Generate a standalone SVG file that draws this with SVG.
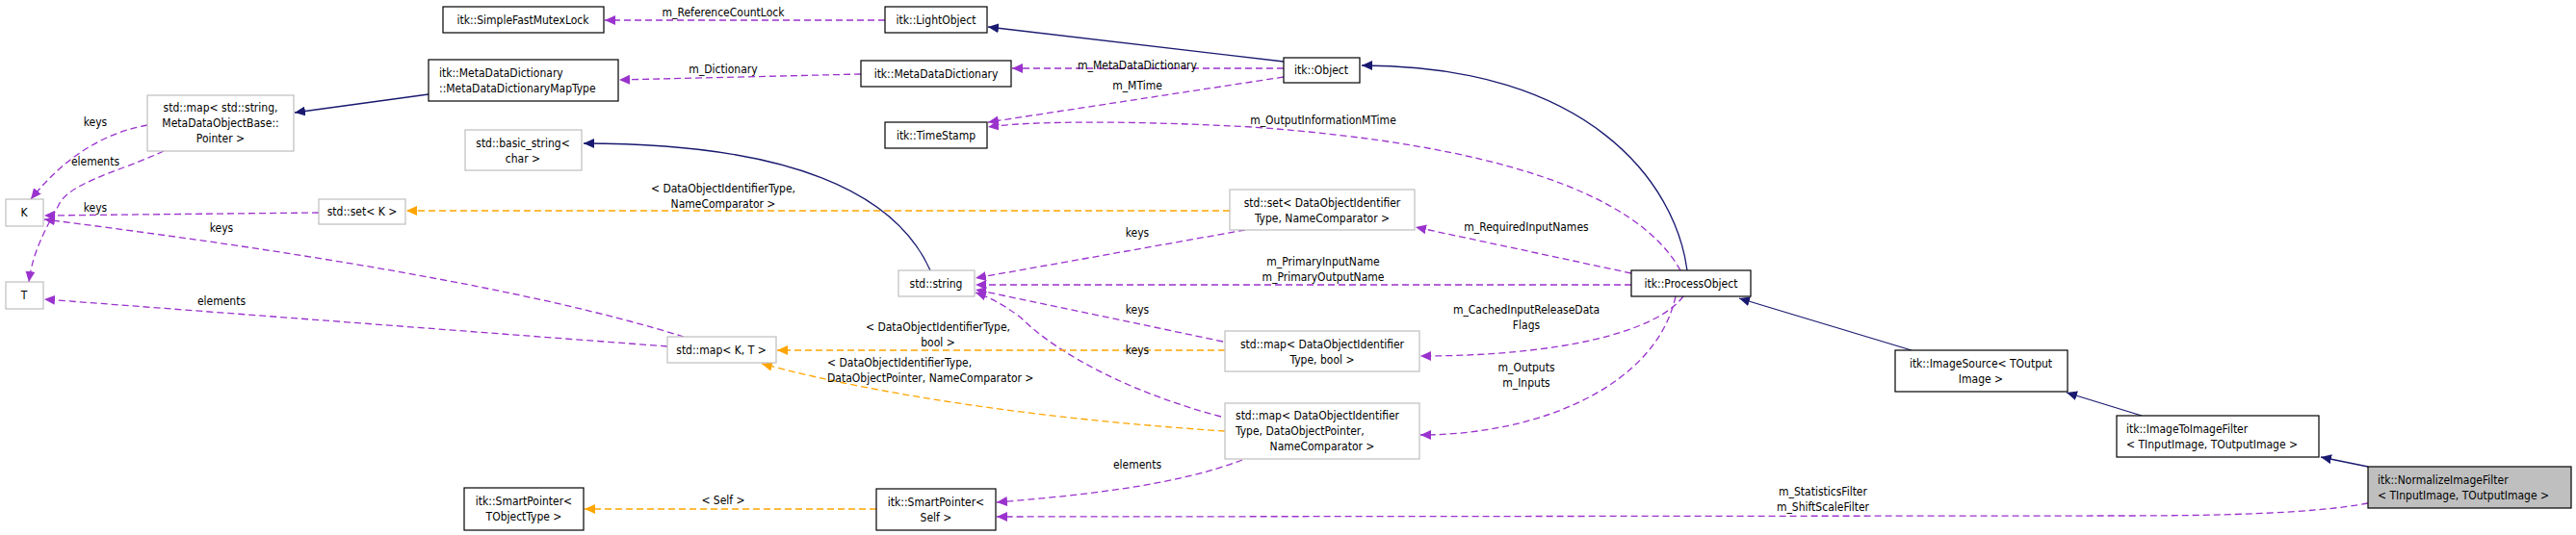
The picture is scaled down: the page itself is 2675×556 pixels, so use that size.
<svg xmlns="http://www.w3.org/2000/svg" width="2675" height="556" viewBox="0 0 2675 556">
<style>
text{font-family:"DejaVu Sans Condensed","DejaVu Sans",sans-serif;font-size:12px;fill:#000}
.c{text-anchor:middle}
.n{fill:#fff;stroke:#000;stroke-width:1.2}
.g{fill:#fff;stroke:#bfbfbf;stroke-width:1.2}
.h{fill:#bfbfbf;stroke:#000;stroke-width:1.2}
.b{fill:none;stroke:#191970;stroke-width:1.3;marker-end:url(#ab)}
.p{fill:none;stroke:#9a32cd;stroke-width:1.3;stroke-dasharray:7,4;marker-end:url(#ap)}
.o{fill:none;stroke:#ffa500;stroke-width:1.3;stroke-dasharray:7,4;marker-end:url(#ao)}
</style>
<defs>
<marker id="ab" markerWidth="12" markerHeight="10" refX="11" refY="5" orient="auto" markerUnits="userSpaceOnUse"><path d="M0,0L11,5L0,10z" fill="#191970"/></marker>
<marker id="ap" markerWidth="12" markerHeight="10" refX="11" refY="5" orient="auto" markerUnits="userSpaceOnUse"><path d="M0,0L11,5L0,10z" fill="#9a32cd"/></marker>
<marker id="ao" markerWidth="12" markerHeight="10" refX="11" refY="5" orient="auto" markerUnits="userSpaceOnUse"><path d="M0,0L11,5L0,10z" fill="#ffa500"/></marker>
</defs>
<g id="connectors">
<path class="b" d="M1333,64L1026,28"/>
<path class="b" d="M1752,281C1740,190 1650,68 1414,68"/>
<path class="b" d="M445,98L306,117"/>
<path class="b" d="M966,281C930,200 820,149 606,149"/>
<path class="b" d="M1985,364L1806,310"/>
<path class="b" d="M2224,432L2146,408"/>
<path class="b" d="M2459,485L2410,475"/>
<path class="p" d="M919,21L628,21"/>
<path class="p" d="M894,77L643,83"/>
<path class="p" d="M1333,71L1051,71"/>
<path class="p" d="M1333,80L1026,127"/>
<path class="p" d="M1745,281C1700,200 1550,150 1300,132C1150,124 1060,127 1026,132"/>
<path class="p" d="M1694,284L1470,236"/>
<path class="p" d="M1694,296L1013,296"/>
<path class="p" d="M1293,239L1013,289"/>
<path class="p" d="M1270,355L1013,301"/>
<path class="p" d="M1268,433C1180,410 1100,370 1060,330C1040,315 1025,308 1013,304"/>
<path class="p" d="M1748,308C1720,345 1620,370 1475,370"/>
<path class="p" d="M1740,308C1720,400 1600,452 1475,452"/>
<path class="p" d="M1290,478C1220,505 1120,515 1035,522"/>
<path class="p" d="M2459,523C2400,534 2300,536 2200,536L1035,537"/>
<path class="p" d="M153,130C110,138 70,160 32,207"/>
<path class="p" d="M170,157C120,180 70,190 60,215C40,250 33,270 30,293"/>
<path class="p" d="M331,221L46,224"/>
<path class="p" d="M710,350C550,300 300,260 46,228"/>
<path class="p" d="M693,360L46,311"/>
<path class="o" d="M1277,219L422,219"/>
<path class="o" d="M1272,364L807,364"/>
<path class="o" d="M1272,448C1100,437 921,413 791,378"/>
<path class="o" d="M910,529L607,529"/>
</g>
<g id="labels">
<text class="c" x="751" y="17">m_ReferenceCountLock</text>
<text class="c" x="751" y="76">m_Dictionary</text>
<text class="c" x="1181" y="72">m_MetaDataDictionary</text>
<text class="c" x="1181" y="93">m_MTime</text>
<text class="c" x="1374" y="129">m_OutputInformationMTime</text>
<text class="c" x="1585" y="240">m_RequiredInputNames</text>
<text class="c" x="1374" y="276">m_PrimaryInputName</text>
<text class="c" x="1374" y="292">m_PrimaryOutputName</text>
<text class="c" x="1181" y="246">keys</text>
<text class="c" x="1181" y="326">keys</text>
<text class="c" x="1181" y="368">keys</text>
<text class="c" x="1585" y="326">m_CachedInputReleaseData</text>
<text class="c" x="1585" y="342">Flags</text>
<text class="c" x="1585" y="386">m_Outputs</text>
<text class="c" x="1585" y="402">m_Inputs</text>
<text class="c" x="1181" y="487">elements</text>
<text class="c" x="1893" y="515">m_StatisticsFilter</text>
<text class="c" x="1893" y="531">m_ShiftScaleFilter</text>
<text class="c" x="99" y="131">keys</text>
<text class="c" x="99" y="172">elements</text>
<text class="c" x="99" y="220">keys</text>
<text class="c" x="230" y="241">keys</text>
<text class="c" x="230" y="317">elements</text>
<text class="c" x="751" y="200">&lt; DataObjectIdentifierType,</text>
<text class="c" x="751" y="216">NameComparator &gt;</text>
<text class="c" x="974" y="344">&lt; DataObjectIdentifierType,</text>
<text class="c" x="974" y="360">bool &gt;</text>
<text x="859" y="381">&lt; DataObjectIdentifierType,</text>
<text x="859" y="397">DataObjectPointer, NameComparator &gt;</text>
<text class="c" x="751" y="524">&lt; Self &gt;</text>
</g>
<g id="SimpleFastMutexLock"><rect class="n" x="460" y="7" width="167" height="27"/><text class="c" x="543" y="25">itk::SimpleFastMutexLock</text></g>
<g id="LightObject"><rect class="n" x="919" y="7" width="106" height="27"/><text class="c" x="972" y="25">itk::LightObject</text></g>
<g id="MapType"><rect class="n" x="445" y="62" width="197" height="43"/><text x="456" y="80">itk::MetaDataDictionary</text><text x="456" y="96">::MetaDataDictionaryMapType</text></g>
<g id="MetaDataDictionary"><rect class="n" x="894" y="63" width="156" height="27"/><text class="c" x="972" y="81">itk::MetaDataDictionary</text></g>
<g id="Object"><rect class="n" x="1333" y="60" width="79" height="26"/><text class="c" x="1372" y="77">itk::Object</text></g>
<g id="TimeStamp"><rect class="n" x="919" y="127" width="106" height="27"/><text class="c" x="972" y="145">itk::TimeStamp</text></g>
<g id="MapStringMeta"><rect class="g" x="153" y="99" width="152" height="58"/><text class="c" x="229" y="116">std::map&lt; std::string,</text><text class="c" x="229" y="132">MetaDataObjectBase::</text><text class="c" x="229" y="148">Pointer &gt;</text></g>
<g id="BasicString"><rect class="g" x="483" y="135" width="121" height="42"/><text class="c" x="543" y="153">std::basic_string&lt;</text><text class="c" x="543" y="169">char &gt;</text></g>
<g id="K"><rect class="g" x="6" y="207" width="39" height="28"/><text class="c" x="25" y="225">K</text></g>
<g id="SetK"><rect class="g" x="331" y="207" width="90" height="26"/><text class="c" x="376" y="224">std::set&lt; K &gt;</text></g>
<g id="T"><rect class="g" x="6" y="293" width="39" height="28"/><text class="c" x="25" y="311">T</text></g>
<g id="MapKT"><rect class="g" x="693" y="350" width="113" height="27"/><text class="c" x="749" y="368">std::map&lt; K, T &gt;</text></g>
<g id="StdString"><rect class="g" x="933" y="281" width="79" height="27"/><text class="c" x="972" y="299">std::string</text></g>
<g id="SetDOI"><rect class="g" x="1277" y="197" width="192" height="42"/><text class="c" x="1373" y="215">std::set&lt; DataObjectIdentifier</text><text class="c" x="1373" y="231">Type, NameComparator &gt;</text></g>
<g id="MapBool"><rect class="g" x="1272" y="344" width="202" height="42"/><text class="c" x="1373" y="362">std::map&lt; DataObjectIdentifier</text><text class="c" x="1373" y="378">Type, bool &gt;</text></g>
<g id="MapDOP"><rect class="g" x="1272" y="419" width="202" height="58"/><text x="1283" y="436">std::map&lt; DataObjectIdentifier</text><text x="1283" y="452">Type, DataObjectPointer,</text><text class="c" x="1373" y="468">NameComparator &gt;</text></g>
<g id="SmartPointerT"><rect class="n" x="482" y="507" width="124" height="44"/><text class="c" x="544" y="525">itk::SmartPointer&lt;</text><text class="c" x="544" y="541">TObjectType &gt;</text></g>
<g id="SmartPointerSelf"><rect class="n" x="910" y="508" width="124" height="43"/><text class="c" x="972" y="526">itk::SmartPointer&lt;</text><text class="c" x="972" y="542">Self &gt;</text></g>
<g id="ProcessObject"><rect class="n" x="1694" y="281" width="124" height="27"/><text class="c" x="1756" y="299">itk::ProcessObject</text></g>
<g id="ImageSource"><rect class="n" x="1968" y="364" width="179" height="43"/><text class="c" x="2057" y="382">itk::ImageSource&lt; TOutput</text><text class="c" x="2057" y="398">Image &gt;</text></g>
<g id="ImageToImageFilter"><rect class="n" x="2198" y="432" width="210" height="43"/><text x="2208" y="450">itk::ImageToImageFilter</text><text x="2208" y="466">&lt; TInputImage, TOutputImage &gt;</text></g>
<g id="NormalizeImageFilter"><rect class="h" x="2459" y="485" width="211" height="43"/><text x="2469" y="503">itk::NormalizeImageFilter</text><text x="2469" y="519">&lt; TInputImage, TOutputImage &gt;</text></g>
</svg>
